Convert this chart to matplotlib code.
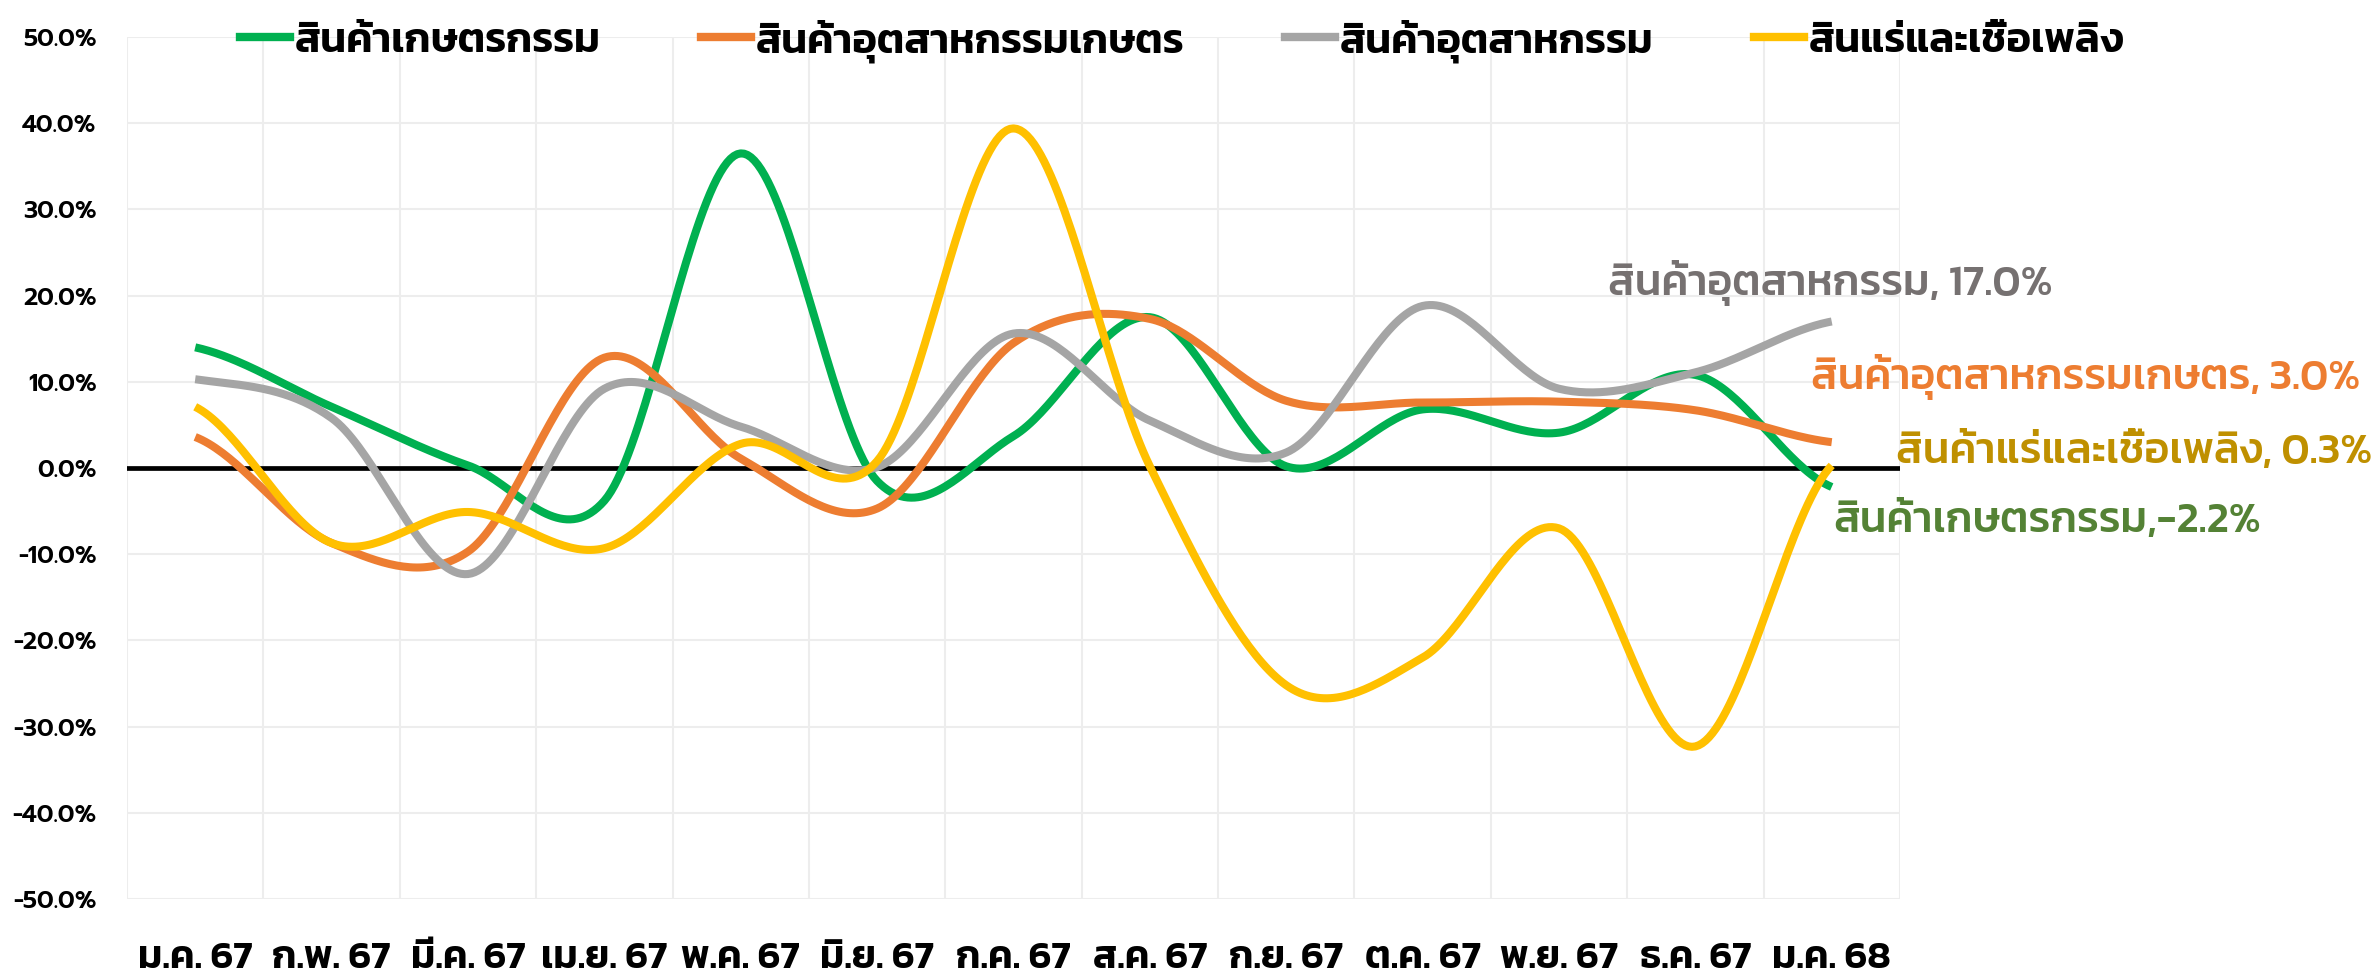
import os
import glob
import numpy as np
import matplotlib
matplotlib.use('Agg')
import matplotlib.pyplot as plt
from matplotlib.font_manager import FontProperties
from matplotlib.lines import Line2D

months = ['ม.ค. 67', 'ก.พ. 67', 'มี.ค. 67', 'เม.ย. 67', 'พ.ค. 67', 'มิ.ย. 67', 'ก.ค. 67',
          'ส.ค. 67', 'ก.ย. 67', 'ต.ค. 67', 'พ.ย. 67', 'ธ.ค. 67', 'ม.ค. 68']

names = ['สินค้าเกษตรกรรม', 'สินค้าอุตสาหกรรมเกษตร', 'สินค้าอุตสาหกรรม', 'สินแร่และเชื้อเพลิง']

agri = [14.0, 7.1, 0.3, -3.8, 36.5, -1.5, 3.7, 17.5, 0.2, 6.8, 4.1, 10.8, -2.2]
agro_ind = [3.6, -8.7, -9.7, 12.8, 1.1, -4.7, 14.5, 17.3, 7.8, 7.6, 7.7, 6.7, 3.0]
industry = [10.3, 5.8, -12.3, 9.2, 4.8, 0.1, 15.6, 5.5, 1.8, 18.8, 9.2, 11.1, 17.0]
mining = [7.1, -8.7, -5.1, -9.3, 2.8, 0.8, 39.4, 0.2, -25.2, -22.0, -7.0, -32.3, 0.3]

end_labels = ['สินค้าเกษตรกรรม,-2.2%', 'สินค้าอุตสาหกรรมเกษตร, 3.0%',
              'สินค้าอุตสาหกรรม, 17.0%', 'สินค้าแร่และเชื้อเพลิง, 0.3%']

colors = ['#00B050', '#ED7D31', '#A5A5A5', '#FFC000']
label_colors = ['#548235', '#ED7D31', '#767171', '#BF9000']


def find_font(fname):
    p = '/usr/share/fonts/truetype/google-fonts/' + fname
    if os.path.exists(p):
        return p
    hits = glob.glob('/usr/share/fonts/**/' + fname, recursive=True)
    return hits[0] if hits else None


def fp(fname, size):
    path = find_font(fname)
    if path:
        return FontProperties(fname=path, size=size)
    return FontProperties(family='DejaVu Sans', weight='bold', size=size)


def smooth(y, n=40):
    # catmull-rom style curve like excel smoothed lines
    y = np.asarray(y, float)
    xs, ys = [], []
    last = len(y) - 1
    for i in range(last):
        m0 = (y[i + 1] - y[i - 1]) / 2 if i > 0 else (y[1] - y[0]) / 2
        m1 = (y[i + 2] - y[i]) / 2 if i + 1 < last else (y[last] - y[last - 1]) / 2
        t = np.linspace(0, 1, n, endpoint=False)
        h00 = 2 * t**3 - 3 * t**2 + 1
        h10 = t**3 - 2 * t**2 + t
        h01 = -2 * t**3 + 3 * t**2
        h11 = t**3 - t**2
        xs.append(i + t)
        ys.append(h00 * y[i] + h10 * m0 + h01 * y[i + 1] + h11 * m1)
    xs.append([last])
    ys.append([y[last]])
    return np.concatenate(xs), np.concatenate(ys)


fig = plt.figure(figsize=(23.74, 9.72), dpi=100)
ax = fig.add_axes([0.0535, 0.0751, 0.7468, 0.8868])

series = [agri, agro_ind, industry, mining]
x = np.arange(len(months))

ax.axhline(0, color='black', lw=3.4, zorder=2)
for vals, c in zip(series, colors):
    sx, sy = smooth(vals)
    ax.plot(sx, sy, color=c, lw=5.8, solid_capstyle='butt', zorder=3)

ax.set_xlim(-0.5, len(months) - 0.5)
ax.set_ylim(-50, 50)
ax.set_yticks(np.arange(-50, 51, 10))
ax.set_xticks(x)
ax.set_xticks(np.arange(-0.5, len(months), 1), minor=True)
ax.grid(True, which='minor', axis='x', color='#EDEDED', lw=1.5)
ax.grid(True, which='major', axis='y', color='#EDEDED', lw=1.5)
ax.set_axisbelow(True)
for s in ax.spines.values():
    s.set_visible(False)
ax.tick_params(which='both', length=0)
ax.tick_params(axis='y', pad=22)
ax.tick_params(axis='x', pad=31)

ax.set_yticklabels(['%.1f%%' % v for v in np.arange(-50, 51, 10)])
for lab in ax.get_yticklabels():
    lab.set_fontproperties(fp('Prompt-SemiBold.ttf', 17.5))
ax.set_xticklabels(months)
for lab in ax.get_xticklabels():
    lab.set_fontproperties(fp('Kanit-SemiBold.ttf', 28))

# end-of-line labels
label_pos = [(12.01, -6.2), (11.85, 10.6), (10.36, 21.5), (12.47, 1.9)]
for txt, (lx, ly), c in zip(end_labels, label_pos, label_colors):
    ax.text(lx, ly, txt, color=c, ha='left', va='center', clip_on=False,
            fontproperties=fp('Kanit-Medium.ttf', 31))

handles = [Line2D([], [], color=c, lw=6) for c in colors]
fig.legend(handles, names, loc='center', bbox_to_anchor=(0.498, 0.958), ncol=4,
           frameon=False, prop=fp('Kanit-SemiBold.ttf', 30), handlelength=1.2,
           handletextpad=0.12, columnspacing=2.4)

fig.savefig('out.png', dpi=100)
